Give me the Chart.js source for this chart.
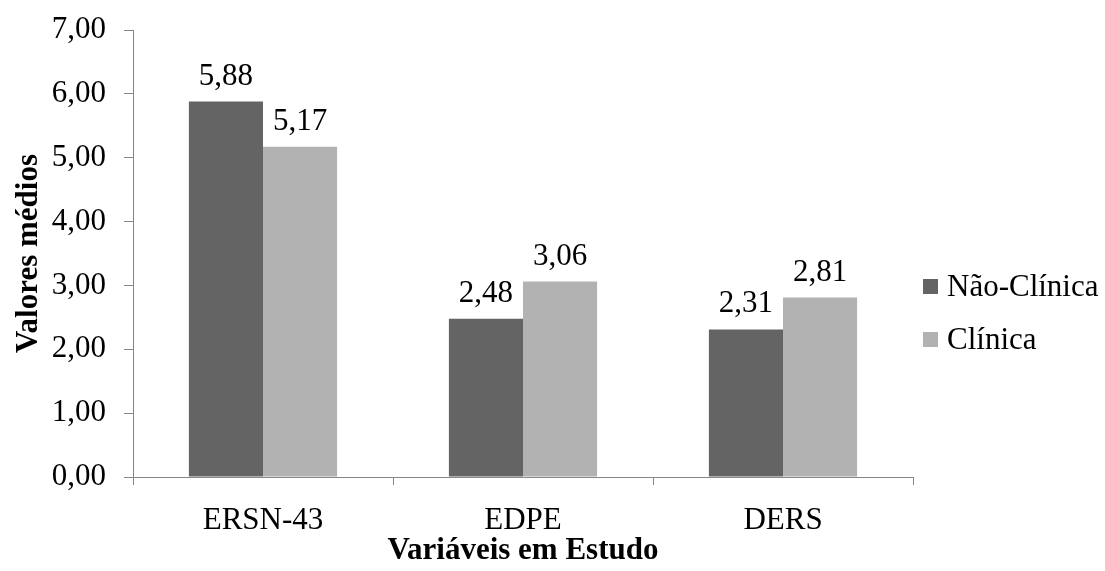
<!DOCTYPE html>
<html lang="pt">
<head>
  <meta charset="UTF-8" />
  <title>Valores médios</title>
  <script src="https://cdn.jsdelivr.net/npm/chart.js"></script>
  <style>
    html, body { margin: 0; padding: 0; background: #fff; }
    #wrap { width: 1105px; height: 571px; }
  </style>
</head>
<body>
<div id="wrap"><canvas id="chart" width="1105" height="571"></canvas></div>
<script>
const categories = ['ERSN-43', 'EDPE', 'DERS'];
const seriesNames = ['Não-Clínica', 'Clínica'];
const naoClinica = [5.88, 2.48, 2.31];
const clinica = [5.17, 3.06, 2.81];
const yTicks = [0, 1, 2, 3, 4, 5, 6, 7];

const colors = ['#646464', '#b2b2b2'];
const axisColor = '#868686';
const fontFamily = "'Liberation Serif', 'Times New Roman', serif";

const fmt = v => v.toFixed(2).replace('.', ',');

// valores por cima das barras
const valueLabels = {
  id: 'valueLabels',
  afterDatasetsDraw(chart) {
    const ctx = chart.ctx;
    ctx.save();
    ctx.font = '31px ' + fontFamily;
    ctx.fillStyle = '#000';
    ctx.textAlign = 'center';
    ctx.textBaseline = 'alphabetic';
    chart.data.datasets.forEach((ds, i) => {
      chart.getDatasetMeta(i).data.forEach((bar, j) => {
        ctx.fillText(fmt(ds.data[j]), bar.x, bar.y - 17);
      });
    });
    ctx.restore();
  }
};

// legenda à direita
const sideLegend = {
  id: 'sideLegend',
  afterDraw(chart) {
    const ctx = chart.ctx;
    const x = chart.chartArea.right + 10;
    const y0 = 287, step = 53;
    ctx.save();
    ctx.font = '31px ' + fontFamily;
    ctx.textBaseline = 'middle';
    ctx.textAlign = 'left';
    chart.data.datasets.forEach((ds, i) => {
      const y = y0 + i * step;
      ctx.fillStyle = ds.backgroundColor;
      ctx.fillRect(x, y - 8, 15, 15);
      ctx.fillStyle = '#000';
      ctx.fillText(ds.label, x + 24, y + 1);
    });
    ctx.restore();
  }
};

new Chart(document.getElementById('chart'), {
  type: 'bar',
  data: {
    labels: categories,
    datasets: [
      { label: seriesNames[0], data: naoClinica, backgroundColor: colors[0] },
      { label: seriesNames[1], data: clinica, backgroundColor: colors[1] }
    ]
  },
  options: {
    responsive: false,
    animation: false,
    layout: { padding: { top: 30, right: 192, bottom: 0, left: 0 } },
    categoryPercentage: 0.57,
    barPercentage: 1.0,
    plugins: {
      legend: { display: false },
      tooltip: { enabled: false }
    },
    scales: {
      x: {
        afterFit: s => { s.height = 94; },
        grid: { display: true, drawOnChartArea: false, drawTicks: true, tickLength: 8, color: axisColor, offset: true },
        border: { color: axisColor, width: 1 },
        ticks: { color: '#000', font: { family: fontFamily, size: 31 }, padding: 17 },
        title: {
          display: true, text: 'Variáveis em Estudo', color: '#000',
          font: { family: fontFamily, size: 31, weight: 'bold' }, padding: { top: 0, bottom: 1 }
        }
      },
      y: {
        min: yTicks[0],
        max: yTicks[yTicks.length - 1],
        afterFit: s => { s.width = 133; s.paddingTop = 0; s.paddingBottom = 0; },
        afterBuildTicks: s => { s.ticks = yTicks.map(v => ({ value: v })); },
        grid: { display: true, drawOnChartArea: false, drawTicks: true, tickLength: 9, color: axisColor },
        border: { color: axisColor, width: 1 },
        ticks: { color: '#000', font: { family: fontFamily, size: 31 }, padding: 18, callback: v => fmt(v) },
        title: {
          display: true, text: 'Valores médios', color: '#000',
          font: { family: fontFamily, size: 31, weight: 'bold' }, padding: { top: 10, bottom: 0 }
        }
      }
    }
  },
  plugins: [valueLabels, sideLegend]
});
</script>
</body>
</html>
